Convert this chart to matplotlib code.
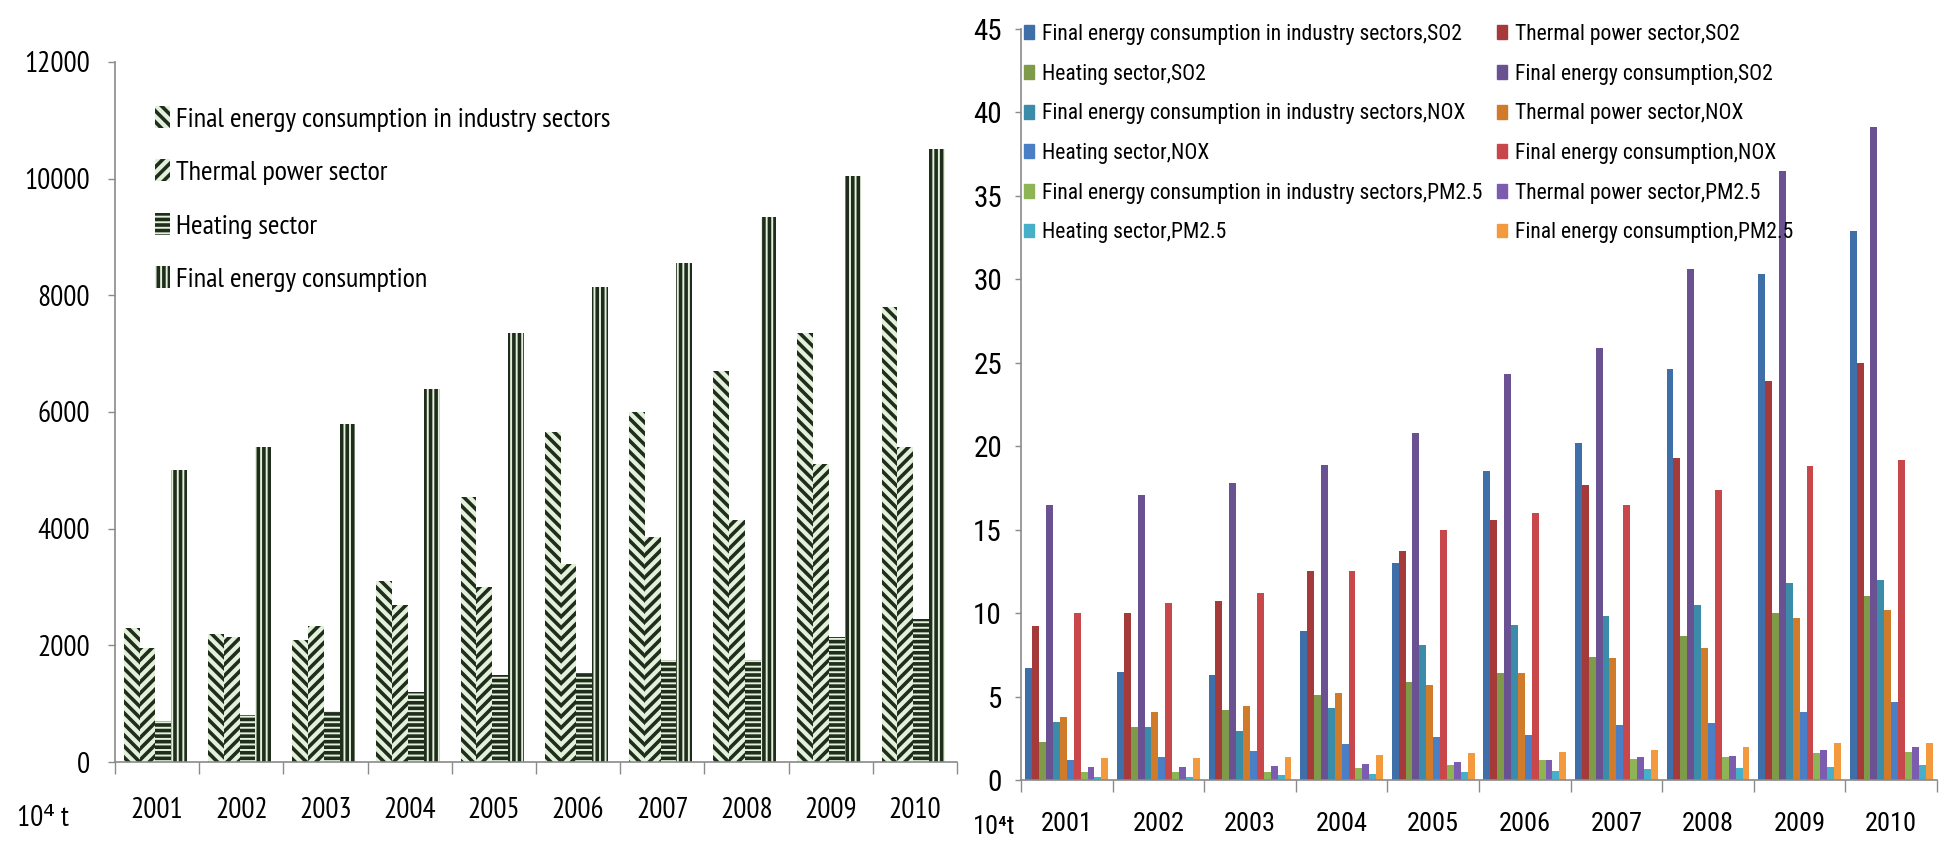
import numpy as np
import matplotlib
matplotlib.use("Agg")
import matplotlib.pyplot as plt
from matplotlib import font_manager
from matplotlib.patches import Patch

# ---------------- data ----------------
years = [2001, 2002, 2003, 2004, 2005, 2006, 2007, 2008, 2009, 2010]

# coal consumption by sector (10^4 t)
coal_labels = ["Final energy consumption in industry sectors", "Thermal power sector",
               "Heating sector", "Final energy consumption"]
coal_industry = [2300, 2200, 2100, 3100, 4550, 5650, 6000, 6700, 7350, 7800]
coal_thermal = [1950, 2150, 2330, 2700, 3000, 3400, 3850, 4150, 5100, 5400]
coal_heating = [700, 800, 870, 1200, 1500, 1520, 1750, 1750, 2150, 2450]
coal_final = [5000, 5400, 5800, 6400, 7350, 8150, 8550, 9350, 10050, 10500]

# pollutant emissions by sector (10^4 t)
emis_labels = ["Final energy consumption in industry sectors,SO2", "Thermal power sector,SO2",
               "Heating sector,SO2", "Final energy consumption,SO2",
               "Final energy consumption in industry sectors,NOX", "Thermal power sector,NOX",
               "Heating sector,NOX", "Final energy consumption,NOX",
               "Final energy consumption in industry sectors,PM2.5", "Thermal power sector,PM2.5",
               "Heating sector,PM2.5", "Final energy consumption,PM2.5"]
ind_so2 = [6.7, 6.5, 6.3, 8.9, 13.0, 18.5, 20.2, 24.6, 30.3, 32.9]
th_so2 = [9.2, 10.0, 10.7, 12.5, 13.7, 15.6, 17.7, 19.3, 23.9, 25.0]
heat_so2 = [2.3, 3.2, 4.2, 5.1, 5.9, 6.4, 7.4, 8.6, 10.0, 11.0]
fin_so2 = [16.5, 17.1, 17.8, 18.9, 20.8, 24.3, 25.9, 30.6, 36.5, 39.1]
ind_nox = [3.5, 3.2, 2.95, 4.3, 8.1, 9.3, 9.8, 10.5, 11.8, 12.0]
th_nox = [3.8, 4.1, 4.45, 5.2, 5.7, 6.4, 7.3, 7.9, 9.7, 10.2]
heat_nox = [1.2, 1.4, 1.75, 2.15, 2.6, 2.7, 3.3, 3.4, 4.1, 4.7]
fin_nox = [10.0, 10.6, 11.2, 12.5, 15.0, 16.0, 16.5, 17.4, 18.8, 19.2]
ind_pm = [0.45, 0.45, 0.45, 0.7, 0.9, 1.2, 1.25, 1.4, 1.6, 1.65]
th_pm = [0.75, 0.8, 0.85, 0.95, 1.1, 1.2, 1.4, 1.45, 1.8, 1.95]
heat_pm = [0.2, 0.2, 0.3, 0.35, 0.45, 0.55, 0.65, 0.7, 0.8, 0.9]
fin_pm = [1.3, 1.3, 1.35, 1.5, 1.6, 1.7, 1.8, 1.95, 2.2, 2.2]

emis_series = [ind_so2, th_so2, heat_so2, fin_so2, ind_nox, th_nox, heat_nox, fin_nox,
               ind_pm, th_pm, heat_pm, fin_pm]
emis_colors = ["#3F6FA8", "#A53A3A", "#7F9A48", "#6A5192", "#3A8CA8", "#D07B2A",
               "#4A7FC6", "#C8474A", "#8DB555", "#7C5CAE", "#48AFC8", "#F39A3F"]

# ---------------- fonts ----------------
_names = {f.name for f in font_manager.fontManager.ttflist}


def first_font(cands):
    return next((c for c in cands if c in _names), "DejaVu Sans")


LEFT_FONT = first_font(["PT Sans Narrow", "Open Sans Condensed", "Roboto Condensed"])
RIGHT_FONT = first_font(["Roboto Condensed", "Archivo Narrow", "PT Sans Narrow"])
plt.rcParams["font.family"] = [RIGHT_FONT, "DejaVu Sans"]
plt.rcParams["hatch.linewidth"] = 2.6

# ---------------- layout ----------------
W, H = 1941, 846
fig = plt.figure(figsize=(W / 100, H / 100), dpi=100)


def px_rect(x0, y0, x1, y1):
    return [x0 / W, 1 - y1 / H, (x1 - x0) / W, (y1 - y0) / H]


axL = fig.add_axes(px_rect(115, 62, 957, 762))
axR = fig.add_axes(px_rect(1021, 29, 1937, 780))

n = len(years)
idx = np.arange(n)
AXIS_GREY = "#8a8a8a"
LFAM = [LEFT_FONT, "DejaVu Sans"]

# ---------------- left: coal consumption ----------------
light, dark = "#e4f1da", "#1f2e1c"
coal_series = [coal_industry, coal_thermal, coal_heating, coal_final]
coal_hatch = ["\\\\\\", "///", "---", "|||"]
bw = 0.1875
off = 0.105
coal_handles = []
for k, (vals, hatch) in enumerate(zip(coal_series, coal_hatch)):
    axL.bar(idx + off + k * bw, vals, width=bw, align="edge", facecolor=light,
            edgecolor=dark, linewidth=0, hatch=hatch)
    coal_handles.append(Patch(facecolor=light, edgecolor=dark, linewidth=0, hatch=hatch))

axL.set_xlim(0, n)
axL.set_ylim(0, 12000)
axL.set_yticks(np.arange(0, 12001, 2000))
axL.set_xticks(np.arange(n + 1))
axL.set_xticklabels([])
axL.set_xticks(idx + 0.5, minor=True)
axL.set_xticklabels([str(y) for y in years], minor=True)
axL.tick_params(axis="x", which="major", length=8.6, width=1, color=AXIS_GREY, direction="out")
axL.tick_params(axis="x", which="minor", length=0, pad=25, labelsize=21)
axL.tick_params(axis="y", length=5, width=1, color=AXIS_GREY, pad=13, labelsize=21)
for lab in axL.get_xticklabels(minor=True) + axL.get_yticklabels():
    lab.set_family(LFAM)
for s in ("top", "right"):
    axL.spines[s].set_visible(False)
for s in ("left", "bottom"):
    axL.spines[s].set_color(AXIS_GREY)
    axL.spines[s].set_linewidth(1.2)

legL = axL.legend(coal_handles, coal_labels, loc="upper left",
                  bbox_to_anchor=(155 / W, 1 - 106 / H), bbox_transform=fig.transFigure,
                  frameon=False, prop={"family": LFAM, "size": 20.3},
                  borderpad=0, borderaxespad=0,
                  handlelength=0.53, handleheight=0.82, handletextpad=0.22,
                  labelspacing=0.98)
fig.text(17 / W, 1 - 818 / H, "10\u2074 t", fontsize=21, ha="left", va="center",
         family=LFAM)

# ---------------- right: emissions ----------------
ebw = 0.0755
eoff = 0.5 - 6 * ebw
for j, (vals, col) in enumerate(zip(emis_series, emis_colors)):
    axR.bar(idx + eoff + j * ebw, vals, width=ebw, align="edge", color=col, linewidth=0)

axR.set_xlim(0, n)
axR.set_ylim(0, 45)
axR.set_yticks(np.arange(0, 46, 5))
axR.set_xticks(np.arange(n + 1))
axR.set_xticklabels([])
axR.set_xticks(idx + 0.5, minor=True)
axR.set_xticklabels([str(y) for y in years], minor=True)
axR.tick_params(axis="x", which="major", length=8.6, width=1, color=AXIS_GREY, direction="out")
axR.tick_params(axis="x", which="minor", length=0, pad=23, labelsize=19)
axR.tick_params(axis="y", length=4.3, width=1, color=AXIS_GREY, pad=9.4, labelsize=21)
for s in ("top", "right"):
    axR.spines[s].set_visible(False)
for s in ("left", "bottom"):
    axR.spines[s].set_color(AXIS_GREY)
    axR.spines[s].set_linewidth(1.2)

# legend in two columns, each placed on its own
leg_kw = dict(loc="upper left", bbox_transform=fig.transFigure, frameon=False,
              fontsize=15.6, borderpad=0, borderaxespad=0, handlelength=0.46,
              handleheight=0.6, handletextpad=0.35, labelspacing=0.86)
col_a = [0, 2, 4, 6, 8, 10]
col_b = [1, 3, 5, 7, 9, 11]
legA = axR.legend([Patch(color=emis_colors[i]) for i in col_a],
                  [emis_labels[i] for i in col_a],
                  bbox_to_anchor=(1024 / W, 1 - 24 / H), **leg_kw)
axR.add_artist(legA)
legB = axR.legend([Patch(color=emis_colors[i]) for i in col_b],
                  [emis_labels[i] for i in col_b],
                  bbox_to_anchor=(1497 / W, 1 - 24 / H), **leg_kw)
fig.text(973 / W, 1 - 827 / H, "10\u2074t", fontsize=19, ha="left", va="center")

fig.savefig("out.png", dpi=100, facecolor="white")
